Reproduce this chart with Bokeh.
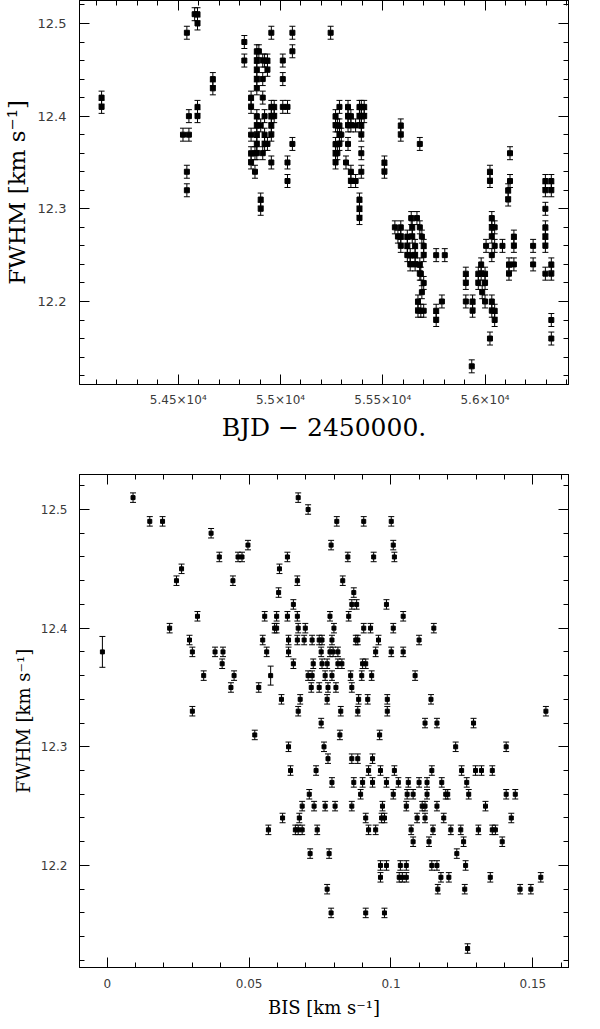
from bokeh.plotting import figure
from bokeh.models import ColumnDataSource, Whisker, TeeHead, Range1d, FixedTicker, LinearAxis
from bokeh.layouts import column
from bokeh.embed import file_html
from bokeh.resources import INLINE
import numpy as np

# ---------------- top panel: FWHM vs time ----------------
bjd = [
    54125, 54125,
    54523,
    54542, 54542, 54542,
    54552, 54552,
    54580,
    54594, 54594, 54594, 54594,
    54669, 54669,
    54823, 54823,
    54856, 54856, 54856, 54856, 54856,
    54875, 54875,
    54884, 54884, 54884, 54884, 54884, 54884, 54884, 54884, 54884, 54884,
    54894,
    54903, 54903, 54903,
    54913, 54913, 54913, 54913,
    54922, 54922, 54922, 54922,
    54936, 54936, 54936,
    54955, 54955, 54955, 54955, 54955, 54955,
    54969, 54969,
    55011, 55011, 55011,
    55034, 55034, 55034,
    55058, 55058, 55058,
    55245,
    55269, 55269, 55269, 55269, 55269,
    55278, 55278,
    55288, 55288, 55288, 55288,
    55297,
    55320,
    55330, 55330, 55330, 55330,
    55344, 55344, 55344, 55344,
    55367, 55367,
    55386, 55386, 55386, 55386, 55386,
    55395, 55395, 55395, 55395, 55395, 55395,
    55409, 55409,
    55508, 55508,
    55559,
    55574,
    55588, 55588, 55588, 55588, 55588,
    55620, 55620, 55620,
    55634, 55634,
    55639,
    55644, 55644,
    55658, 55658, 55658,
    55667,
    55672, 55672,
    55681, 55681, 55681, 55681,
    55686, 55686,
    55691, 55691,
    55700, 55700, 55700, 55700,
    55761, 55761, 55761,
    55789,
    55803,
    55906, 55906, 55906,
    55935,
    55939, 55939,
    55967, 55967,
    55981, 55981,
    55986,
    56000, 56000, 56000,
    56005,
    56024, 56024, 56024,
    56033, 56033, 56033, 56033, 56033, 56033,
    56047, 56047, 56047, 56047,
    56085,
    56113, 56113,
    56117, 56117,
    56122, 56122,
    56141, 56141, 56141,
    56235, 56235,
    56295, 56295, 56295, 56295, 56295, 56295, 56295,
    56324, 56324, 56324, 56324, 56324, 56324,
]
fwhm_t = [
    12.42, 12.41,
    12.38,
    12.49, 12.34, 12.32,
    12.38, 12.40,
    12.51,
    12.51, 12.50, 12.41, 12.40,
    12.44, 12.43,
    12.48, 12.46,
    12.42, 12.41, 12.38, 12.36, 12.35,
    12.36, 12.34,
    12.47, 12.46, 12.45, 12.44, 12.43, 12.40, 12.39, 12.38, 12.37, 12.36,
    12.47,
    12.39, 12.31, 12.30,
    12.46, 12.44, 12.42, 12.36,
    12.46, 12.40, 12.38, 12.37,
    12.46, 12.45, 12.37,
    12.49, 12.41, 12.40, 12.39, 12.38, 12.35,
    12.41, 12.40,
    12.46, 12.44, 12.41,
    12.41, 12.35, 12.33,
    12.49, 12.47, 12.37,
    12.49,
    12.40, 12.39, 12.37, 12.36, 12.35,
    12.39, 12.36,
    12.41, 12.39, 12.38, 12.37,
    12.38,
    12.35,
    12.41, 12.40, 12.39, 12.37,
    12.40, 12.39, 12.34, 12.33,
    12.39, 12.33,
    12.41, 12.40, 12.31, 12.30, 12.29,
    12.41, 12.40, 12.39, 12.38, 12.36, 12.34,
    12.41, 12.40,
    12.35, 12.34,
    12.28,
    12.27,
    12.39, 12.38, 12.28, 12.27, 12.26,
    12.27, 12.26, 12.25,
    12.25, 12.24,
    12.29,
    12.28, 12.27,
    12.26, 12.25, 12.24,
    12.29,
    12.20, 12.19,
    12.37, 12.28, 12.24, 12.23,
    12.23, 12.19,
    12.27, 12.21,
    12.26, 12.25, 12.22, 12.19,
    12.25, 12.19, 12.18,
    12.20,
    12.25,
    12.23, 12.22, 12.20,
    12.13,
    12.20, 12.19,
    12.23, 12.22,
    12.24, 12.23,
    12.21,
    12.23, 12.22, 12.20,
    12.26,
    12.34, 12.33, 12.16,
    12.29, 12.28, 12.27, 12.25, 12.20, 12.19,
    12.28, 12.26, 12.19, 12.18,
    12.26,
    12.32, 12.31,
    12.24, 12.23,
    12.36, 12.33,
    12.27, 12.26, 12.24,
    12.26, 12.24,
    12.33, 12.32, 12.30, 12.28, 12.27, 12.26, 12.23,
    12.33, 12.32, 12.24, 12.23, 12.18, 12.16,
]
err_t = 0.007

# ---------------- bottom panel: FWHM vs BIS ----------------
bis = [
    -0.0017, 0.0091, 0.0150, 0.0195, 0.0220, 0.0244, 0.0262, 0.0290, 0.0300, 0.0300,
    0.0318, 0.0340, 0.0366, 0.0380, 0.0395, 0.0405, 0.0408, 0.0436, 0.0443, 0.0447,
    0.0461, 0.0475, 0.0496, 0.0520, 0.0534, 0.0548, 0.0555, 0.0562, 0.0568, 0.0576,
    0.0590, 0.0597, 0.0597, 0.0604, 0.0607, 0.0614, 0.0618, 0.0635, 0.0635, 0.0639,
    0.0639, 0.0639, 0.0646, 0.0656, 0.0656, 0.0670, 0.0670, 0.0673, 0.0670, 0.0673,
    0.0680, 0.0673, 0.0677, 0.0663, 0.0673, 0.0687, 0.0698, 0.0694, 0.0708, 0.0708,
    0.0712, 0.0715, 0.0719, 0.0722, 0.0722, 0.0726, 0.0687, 0.0729, 0.0736, 0.0740,
    0.0747, 0.0747, 0.0754, 0.0754, 0.0757, 0.0757, 0.0764, 0.0768, 0.0768, 0.0775,
    0.0775, 0.0775, 0.0778, 0.0778, 0.0782, 0.0785, 0.0785, 0.0789, 0.0789, 0.0792,
    0.0792, 0.0792, 0.0796, 0.0799, 0.0803, 0.0806, 0.0809, 0.0813, 0.0813, 0.0820,
    0.0823, 0.0827, 0.0830, 0.0848, 0.0851, 0.0858, 0.0862, 0.0862, 0.0862, 0.0862,
    0.0869, 0.0869, 0.0876, 0.0879, 0.0883, 0.0883, 0.0883, 0.0886, 0.0893, 0.0897,
    0.0900, 0.0900, 0.0904, 0.0904, 0.0911, 0.0911, 0.0911, 0.0918, 0.0921, 0.0921,
    0.0928, 0.0932, 0.0935, 0.0935, 0.0939, 0.0946, 0.0946, 0.0956, 0.0960, 0.0963,
    0.0963, 0.0963, 0.0967, 0.0970, 0.0977, 0.0977, 0.0984, 0.0984, 0.0984, 0.0987,
    0.0987, 0.1001, 0.1001, 0.1008, 0.1008, 0.1008, 0.1012, 0.1012, 0.1026, 0.1029,
    0.1033, 0.1040, 0.1043, 0.1043, 0.1054, 0.1054, 0.1054, 0.1057, 0.1061, 0.1071,
    0.1078, 0.1078, 0.1085, 0.1092, 0.1099, 0.1099, 0.1110, 0.1120, 0.1120, 0.1120,
    0.1127, 0.1127, 0.1134, 0.1141, 0.1144, 0.1144, 0.1148, 0.1151, 0.1162, 0.1162,
    0.1162, 0.1165, 0.1176, 0.1179, 0.1186, 0.1193, 0.1200, 0.1204, 0.1211, 0.1228,
    0.1232, 0.1246, 0.1249, 0.1256, 0.1260, 0.1263, 0.1267, 0.1270, 0.1274, 0.1291,
    0.1298, 0.1308, 0.1319, 0.1333, 0.1350, 0.1357, 0.1357, 0.1368, 0.1392, 0.1406,
    0.1406, 0.1424, 0.1438, 0.1455, 0.1493, 0.1528, 0.1546,
]
fwhm_b = [
    12.38, 12.51, 12.49, 12.49, 12.40, 12.44, 12.45, 12.39, 12.38, 12.33,
    12.41, 12.36, 12.48, 12.38, 12.46, 12.37, 12.38, 12.35, 12.44, 12.36,
    12.46, 12.46, 12.47, 12.31, 12.35, 12.39, 12.41, 12.38, 12.23, 12.36,
    12.40, 12.41, 12.40, 12.43, 12.45, 12.34, 12.24, 12.46, 12.41, 12.39,
    12.38, 12.30, 12.28, 12.42, 12.37, 12.44, 12.41, 12.40, 12.39, 12.51,
    12.34, 12.33, 12.24, 12.23, 12.23, 12.23, 12.40, 12.39, 12.50, 12.36,
    12.26, 12.21, 12.35, 12.39, 12.36, 12.37, 12.25, 12.25, 12.28, 12.23,
    12.39, 12.35, 12.38, 12.32, 12.39, 12.37, 12.30, 12.36, 12.25, 12.37,
    12.34, 12.18, 12.35, 12.29, 12.21, 12.41, 12.38, 12.47, 12.16, 12.39,
    12.36, 12.27, 12.38, 12.40, 12.25, 12.35, 12.49, 12.38, 12.37, 12.31,
    12.33, 12.37, 12.44, 12.46, 12.41, 12.36, 12.42, 12.35, 12.29, 12.25,
    12.43, 12.27, 12.39, 12.42, 12.39, 12.33, 12.29, 12.34, 12.26, 12.36,
    12.37, 12.27, 12.49, 12.40, 12.37, 12.24, 12.16, 12.34, 12.28, 12.23,
    12.40, 12.36, 12.29, 12.27, 12.46, 12.38, 12.23, 12.39, 12.31, 12.28,
    12.20, 12.19, 12.24, 12.25, 12.24, 12.16, 12.42, 12.27, 12.20, 12.34,
    12.33, 12.49, 12.38, 12.47, 12.40, 12.26, 12.46, 12.28, 12.27, 12.19,
    12.20, 12.19, 12.41, 12.38, 12.25, 12.20, 12.19, 12.26, 12.27, 12.23,
    12.26, 12.22, 12.36, 12.24, 12.39, 12.27, 12.25, 12.32, 12.25, 12.24,
    12.27, 12.26, 12.22, 12.34, 12.28, 12.20, 12.23, 12.40, 12.32, 12.25,
    12.20, 12.18, 12.19, 12.27, 12.24, 12.26, 12.26, 12.19, 12.23, 12.30,
    12.21, 12.23, 12.28, 12.22, 12.18, 12.20, 12.27, 12.13, 12.26, 12.32,
    12.28, 12.23, 12.28, 12.25, 12.19, 12.28, 12.23, 12.23, 12.22, 12.30,
    12.26, 12.24, 12.26, 12.18, 12.18, 12.19, 12.33,
]
err_b = [0.004] * len(bis)
err_b[0] = 0.013
err_b[29] = 0.008

# tick labels
top_xticks = [54500, 55000, 55500, 56000]
top_xlabels = ["5.45×10⁴", "5.5×10⁴", "5.55×10⁴", "5.6×10⁴"]
yticks = [12.2, 12.3, 12.4, 12.5]
ylabels = ["12.2", "12.3", "12.4", "12.5"]
bot_xticks = [0.0, 0.05, 0.1, 0.15]
bot_xlabels = ["0", "0.05", "0.1", "0.15"]

SERIF = "DejaVu Serif"
SANS = "DejaVu Sans"


def tick_axis(ax, length):
    ax.axis_line_color = "black"
    ax.major_tick_line_color = "black"
    ax.minor_tick_line_color = "black"
    ax.major_tick_in = length
    ax.major_tick_out = 0
    ax.minor_tick_in = length
    ax.minor_tick_out = 0
    ax.major_label_standoff = 0


def mirror(p, ticks, minor, side):
    # label-free mirrored axes: long ticks at major positions, short at minor ones
    a1 = LinearAxis(ticker=FixedTicker(ticks=[], minor_ticks=list(ticks)))
    a2 = LinearAxis(ticker=FixedTicker(ticks=[], minor_ticks=list(minor)))
    tick_axis(a1, 10)
    tick_axis(a2, 5)
    p.add_layout(a1, side)
    p.add_layout(a2, side)


def frame_axes(p, xt, xminor, xlab, yt, yminor, ylab, xfs, yfs, xlabfs, ylabfs,
               xlabel, ylabel, x_so, y_so, xl_so, yl_so):
    p.xgrid.visible = False
    p.ygrid.visible = False
    p.outline_line_color = "black"
    p.outline_line_width = 1
    xticker = FixedTicker(ticks=xt, minor_ticks=xminor)
    yticker = FixedTicker(ticks=yt, minor_ticks=yminor)
    for ax, tk, labs, fs, so, lfs in ((p.xaxis[0], xticker, xlab, xfs, x_so, xlabfs),
                                      (p.yaxis[0], yticker, ylab, yfs, y_so, ylabfs)):
        ax.ticker = tk
        ax.major_label_overrides = {t: l for t, l in zip(tk.ticks, labs)}
        ax.major_label_text_font = SANS
        ax.major_label_text_font_size = fs
        ax.major_label_text_color = "#3a3a3a"
        ax.axis_label_text_font = SERIF
        ax.axis_label_text_font_style = "normal"
        ax.axis_label_text_font_size = lfs
        ax.axis_label_text_color = "black"
        ax.axis_line_color = "black"
        ax.major_tick_line_color = "black"
        ax.minor_tick_line_color = "black"
        ax.major_tick_in = 10
        ax.major_tick_out = 0
        ax.minor_tick_in = 5
        ax.minor_tick_out = 0
        ax.major_label_standoff = so
    p.xaxis[0].axis_label = xlabel
    p.yaxis[0].axis_label = ylabel
    p.xaxis[0].axis_label_standoff = xl_so
    p.yaxis[0].axis_label_standoff = yl_so
    mirror(p, xt, xminor, "above")
    mirror(p, yt, yminor, "right")


def add_points(p, xs, ys, errs, size, head):
    up = [y + e for y, e in zip(ys, errs)]
    lo = [y - e for y, e in zip(ys, errs)]
    src = ColumnDataSource(dict(x=xs, y=ys, upper=up, lower=lo))
    w = Whisker(source=src, base="x", upper="upper", lower="lower", dimension="height",
                line_color="black", line_width=1,
                upper_head=TeeHead(size=head, line_color="black", line_width=1),
                lower_head=TeeHead(size=head, line_color="black", line_width=1))
    p.add_layout(w)
    p.scatter("x", "y", source=src, marker="square", size=size,
              fill_color="black", line_color="black")


ymin = list(np.round(np.arange(12.12, 12.521, 0.02), 2))

# ---- top figure ----
p1 = figure(width=592, height=452, output_backend="svg", toolbar_location=None,
            x_range=Range1d(54017, 56408), y_range=Range1d(12.1104, 12.5248),
            min_border_left=72, min_border_right=10, min_border_top=0, min_border_bottom=68,
            background_fill_color="white", border_fill_color="white")
frame_axes(p1, top_xticks, list(np.arange(54100, 56401, 100)), top_xlabels,
           yticks, ymin, ylabels,
           "12px", "13px", "25px", "23px", "BJD − 2450000.", "FWHM [km s⁻¹]",
           8, 13, 3, 5)
add_points(p1, bjd, fwhm_t, [err_t] * len(bjd), 5, 6)

# ---- bottom figure ----
p2 = figure(width=592, height=569, output_backend="svg", toolbar_location=None,
            x_range=Range1d(-0.00977, 0.16256), y_range=Range1d(12.114, 12.5295),
            min_border_left=74, min_border_right=24, min_border_top=22, min_border_bottom=54,
            background_fill_color="white", border_fill_color="white")
frame_axes(p2, bot_xticks, list(np.round(np.arange(0.0, 0.161, 0.01), 2)), bot_xlabels,
           yticks, ymin, ylabels,
           "12px", "12px", "18px", "18px", "BIS [km s⁻¹]", "FWHM [km s⁻¹]",
           11, 12, 6, 4)
add_points(p2, bis, fwhm_b, err_b, 4, 6)

layout = column(p1, p2, spacing=0)
open("out.html", "w").write(file_html(layout, INLINE))
